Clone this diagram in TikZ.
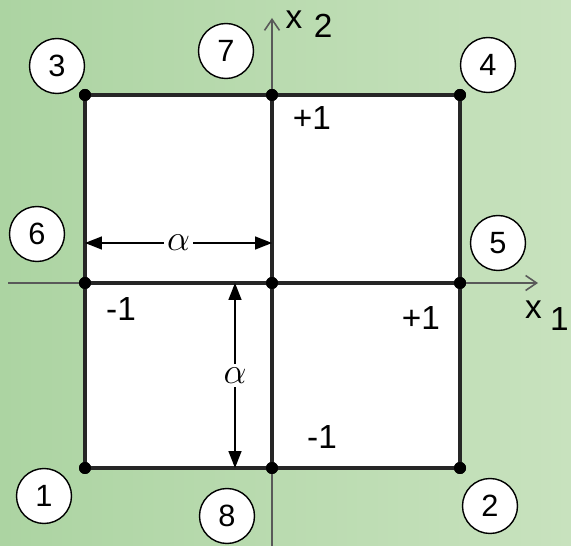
\documentclass[tikz,border=0pt]{standalone}
\usepackage{fontspec}
\setmainfont{Liberation Sans}
\usetikzlibrary{arrows.meta,positioning}
\definecolor{bgleft}{RGB}{172,212,162}
\definecolor{bgright}{RGB}{200,226,190}
\tikzset{
  pt/.style={circle, fill=black, inner sep=0pt, minimum size=0.24cm},
  num/.style={circle, draw=black, fill=white, line width=0.8pt, inner sep=0pt, minimum size=1.1cm, font=\fontsize{17.5}{19}\selectfont},
  val/.style={font=\fontsize{19}{21}\selectfont, inner sep=1pt},
  axis/.style={draw=black!65, line width=0.9pt, -{Straight Barb[length=2.2mm, width=3mm]}},
  edge/.style={line width=1.8pt, black!85},
  dim/.style={line width=0.9pt, {Triangle[length=3.4mm, width=2.6mm]}-{Triangle[length=3.4mm, width=2.6mm]}},
  alab/.style={fill=white, inner sep=2pt, font=\fontsize{20}{22}\selectfont}
}
\begin{document}
\begin{tikzpicture}[x=0.02cm, y=-0.02cm]
  % background
  \shade[left color=bgleft, right color=bgright] (0,0) rectangle (571,546);
  \useasboundingbox (0,0) rectangle (571,546);
  \fill[white] (85,95) rectangle (460,468);

  % corners and mid points
  \node[pt] (p1) at (85,468) {};
  \node[pt] (p2) at (460,468) {};
  \node[pt] (p3) at (85,95) {};
  \node[pt] (p4) at (460,95) {};
  \node[pt] (p5) at (460,283) {};
  \node[pt] (p6) at (85,283) {};
  \node[pt] (p7) at (272,95) {};
  \node[pt] (p8) at (272,468) {};
  \node[pt] (p0) at (272,283) {};

  % axes
  \coordinate (x1s) at (8,283);
  \coordinate (x1e) at (538,283);
  \coordinate (x2s) at (272,546);
  \coordinate (x2e) at (272,18);
  \draw[axis] (x1s) -- (x1e);
  \draw[axis] (x2s) -- (x2e);
  \node[val] (lx2) at (309,24) {x\hspace{0.35em}\raisebox{-5pt}{2}};
  \node[val] (lx1) at (547,316) {x\hspace{0.25em}\raisebox{-7pt}{1}};

  % square
  \draw[edge] (p3.center) -- (p4.center) -- (p2.center) -- (p1.center) -- cycle;
  \draw[edge] (p6.center) -- (p5.center);
  \draw[edge] (p7.center) -- (p8.center);
  \foreach \p in {p0,p1,p2,p3,p4,p5,p6,p7,p8}
    \node[pt] at (\p) {};

  % values
  \node[val] (v1) at (312,118) {+1};
  \node[val] (v2) at (121,309) {-1};
  \node[val] (v3) at (421,318) {+1};
  \node[val] (v4) at (322,437) {-1};

  % widths
  \coordinate (ha) at (85,243);
  \coordinate (hb) at (272,243);
  \coordinate (va) at (235,283);
  \coordinate (vb) at (235,468);
  \draw[dim] (ha) -- node[alab] {$\alpha$} (hb);
  \draw[dim] (va) -- node[alab] {$\alpha$} (vb);

  % numbers
  \node[num] (c1) at (44,496) {1};
  \node[num] (c2) at (490,506) {2};
  \node[num] (c3) at (57,66) {3};
  \node[num] (c4) at (488,65) {4};
  \node[num] (c5) at (498,243) {5};
  \node[num] (c6) at (37,234) {6};
  \node[num] (c7) at (226,51) {7};
  \node[num] (c8) at (227,516) {8};
\end{tikzpicture}
\end{document}
